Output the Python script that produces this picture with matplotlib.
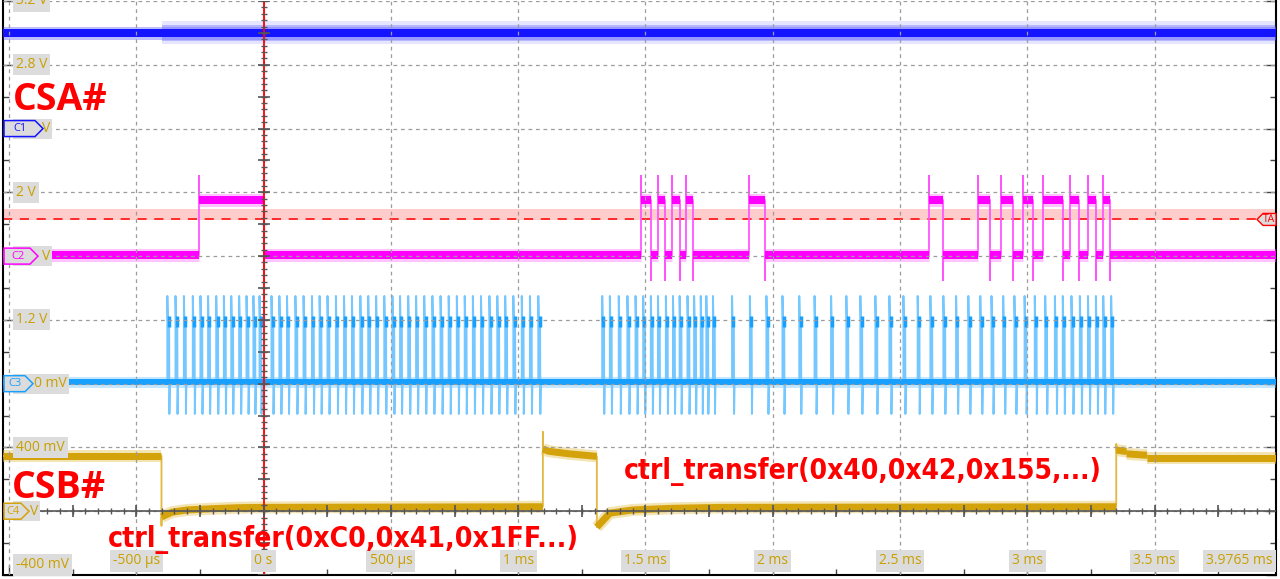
import os
import numpy as np
import matplotlib
matplotlib.use('Agg')
import matplotlib.pyplot as plt
from matplotlib import font_manager
from matplotlib.font_manager import FontProperties
from matplotlib.patches import Polygon, Rectangle

# scope window (ms)
t_start = -1.0235
t_end = 3.9765

# channel marker rows (divisions from bottom) and volts per division
c1_pos, c2_pos, c3_pos, c4_pos = 7, 5, 3, 1
c1_vdiv, c2_vdiv, c3_vdiv, c4_vdiv = 2.0, 2.0, 0.4, 2.0

# C1 (CSA#) - stays high, just gets noisy once the bus is busy
c1_level = 3.0
c1_busy_from = -0.40

# C2 edges (ms)
c2_low, c2_high = 0.05, 1.75
c2_overshoot, c2_undershoot = 2.5, -0.75
c2_rise = [-0.252, 1.484, 1.548, 1.604, 1.659, 1.905, 2.615, 2.808, 2.897,
           2.984, 3.063, 3.168, 3.237, 3.298]
c2_fall = [0.0, 1.520, 1.575, 1.634, 1.686, 1.969, 2.669, 2.853, 2.943,
           3.024, 3.138, 3.204, 3.269, 3.324]

# C3 pulses (ms)
c3_base, c3_top, c3_plateau, c3_bottom = 0.01, 0.55, 0.39, -0.19
c3_pulses = [-0.378, -0.346, -0.313, -0.278, -0.248, -0.218, -0.186, -0.156,
             -0.127, -0.096, -0.067, -0.040, -0.016, 0.031, 0.062, 0.092,
             0.125, 0.157, 0.190, 0.220, 0.251, 0.284, 0.316, 0.347, 0.380,
             0.411, 0.442, 0.474, 0.506, 0.536, 0.568, 0.599, 0.631, 0.663,
             0.695, 0.727, 0.759, 0.790, 0.822, 0.854, 0.887, 0.918, 0.949,
             0.981, 1.014, 1.046, 1.079,
             1.330, 1.360, 1.395, 1.429, 1.461, 1.491, 1.521, 1.549, 1.580,
             1.608, 1.634, 1.665, 1.691, 1.717, 1.739, 1.765, 1.840, 1.910,
             1.975, 2.038, 2.104, 2.164, 2.229, 2.289, 2.344, 2.403, 2.458,
             2.513, 2.569, 2.619, 2.670, 2.720, 2.768, 2.815, 2.859, 2.905,
             2.949, 2.989, 3.029, 3.070, 3.108, 3.139, 3.173, 3.206, 3.238,
             3.269, 3.298, 3.329]

# C4 (CSB#) trace points (ms, V)
c4_t = [t_start, -0.401, -0.401, -0.401, -0.36, -0.30, -0.20, -0.10, 0.0,
        1.097, 1.097, 1.097, 1.12, 1.20, 1.309,
        1.309, 1.309, 1.36, 1.45, 1.60, 1.80,
        3.349, 3.349, 3.349, 3.38, 3.39, 3.39, 3.46, 3.47, 3.47, t_end]
c4_v = [1.73, 1.73, -0.45, -0.18, -0.03, 0.04, 0.08, 0.11, 0.12,
        0.14, 2.48, 1.95, 1.88, 1.80, 1.72,
        1.72, -0.50, -0.06, 0.04, 0.09, 0.12,
        0.14, 2.10, 1.92, 1.88, 1.88, 1.80, 1.76, 1.76, 1.68, 1.68]

# trigger on C2
trig_level = 1.15
trig_band = (1.13, 1.47)

time_ticks = [-0.5, 0, 0.5, 1, 1.5, 2, 2.5, 3, 3.5]
time_labels = ['-500 µs', '0 s', '500 µs', '1 ms', '1.5 ms', '2 ms', '2.5 ms', '3 ms', '3.5 ms']
end_label = '3.9765 ms'
volt_rows = [9, 8, 6, 4, 2]
volt_labels = ['3.2 V', '2.8 V', '2 V', '1.2 V', '400 mV']

GOLD = '#c9a000'
BOX = '#dcdcdc'
C1_COL, C2_COL, C3_COL, C4_COL = '#1414ff', '#ff00ff', '#18a0ff', '#d4a20a'

MS_PER_PX = (t_end - t_start) / 1273.0
DIV_PER_PX = 9 / 574.0


def xpx(p):
    return t_start + (p - 3) * MS_PER_PX


def ypx(p):
    return (575 - p) * DIV_PER_PX


def find_font(keys):
    for key in keys:
        for f in font_manager.fontManager.ttflist:
            base = os.path.basename(f.fname).lower().replace('-', '').replace('_', '')
            if base.startswith(key):
                return f.fname
    return None


fig = plt.figure(figsize=(12.8, 5.79), dpi=100)
ax = fig.add_axes([3 / 1280, 4 / 579, 1273 / 1280, 574 / 579])
ax.set_xlim(t_start, t_end)
ax.set_ylim(0, 9)

# border ticks
ax.set_xticks(np.arange(-1, 3.6, 0.5))
ax.set_yticks(np.arange(0, 10, 1))
ax.set_xticks(np.arange(-1, 3.9, 0.25), minor=True)
ax.set_yticks(np.arange(0, 9.1, 0.5), minor=True)
ax.tick_params(which='both', direction='in', labelleft=False, labelbottom=False,
               left=True, right=True, bottom=True, top=False, color='#444444')
ax.tick_params(which='major', length=7, width=1)
ax.tick_params(which='minor', length=4, width=1)
for s in ['left', 'right', 'bottom']:
    ax.spines[s].set_color('black')
    ax.spines[s].set_linewidth(1.5)
ax.spines['top'].set_visible(False)

# dashed graticule, drawn over the traces like on the scope
for t in np.arange(-1, 3.6, 0.5):
    ax.axvline(t, color='#9c9c9c', lw=0.9, ls=(0, (3, 3)), zorder=6.5)
for d in range(1, 10):
    ax.axhline(d, color='#9c9c9c', lw=0.9, ls=(0, (3, 3)), zorder=6.5)


def draw_trace(ts, vs, pos, vdiv, core, fringe, edge, band_px, z):
    ts = np.asarray(ts, float)
    ys = pos + np.asarray(vs, float) / vdiv
    ax.plot(ts, ys, color=edge, lw=1.3, zorder=z)
    cuts = np.where(np.diff(ts) == 0)[0] + 1
    for seg_t, seg_y in zip(np.split(ts, cuts), np.split(ys, cuts)):
        if len(seg_t) > 1:
            ax.plot(seg_t, seg_y, color=fringe, lw=(band_px + 5) * 0.72, alpha=0.45,
                    solid_capstyle='butt', zorder=z)
            ax.plot(seg_t, seg_y, color=core, lw=band_px * 0.72,
                    solid_capstyle='butt', zorder=z + 0.1)


# trigger band and level
ax.axhspan(c2_pos + trig_band[0] / c2_vdiv, c2_pos + trig_band[1] / c2_vdiv,
           color='#ffcccc', lw=0, zorder=0.5)
ax.axhline(c2_pos + trig_level / c2_vdiv, color='#ff0000', lw=1.1, ls=(0, (6, 5)), zorder=2)

# C1
y1 = c1_pos + c1_level / c1_vdiv
ax.fill_between([c1_busy_from, t_end], y1 - 0.18, y1 + 0.18, color='#4a4aff',
                alpha=0.14, lw=0, zorder=3)
ax.fill_between([c1_busy_from, t_end], y1 - 0.12, y1 + 0.12, color='#3030ff',
                alpha=0.25, lw=0, zorder=3)
draw_trace([t_start, t_end], [c1_level, c1_level], c1_pos, c1_vdiv,
           C1_COL, '#7070ff', C1_COL, 8, 3)

# C2
c2_t, c2_v = [t_start], [c2_low]
for t, kind in sorted([(t, 'r') for t in c2_rise] + [(t, 'f') for t in c2_fall]):
    c2_t += [t, t, t]
    if kind == 'r':
        c2_v += [c2_low, c2_overshoot, c2_high]
    else:
        c2_v += [c2_high, c2_undershoot, c2_low]
c2_t.append(t_end)
c2_v.append(c2_low)
draw_trace(c2_t, c2_v, c2_pos, c2_vdiv, C2_COL, '#ff7cff', '#ff55ff', 8, 4)

# C3
y3 = c3_pos + c3_base / c3_vdiv
pt, pv = [], []
for t in c3_pulses:
    pt += [t, t, t + 0.002, t + 0.007, t + 0.008, t + 0.010, np.nan]
    pv += [c3_base, c3_top, c3_plateau, c3_plateau, c3_bottom, c3_base, np.nan]
ax.plot(pt, c3_pos + np.array(pv) / c3_vdiv, color='#74c8ff', lw=1.4, zorder=5)
ax.vlines(np.array(c3_pulses) + 0.005, c3_pos + c3_plateau / c3_vdiv - 0.09,
          c3_pos + c3_plateau / c3_vdiv + 0.09, color=C3_COL, lw=2.5, zorder=5)
ax.plot([t_start, t_end], [y3, y3], color='#7cc8ff', lw=11 * 0.72, alpha=0.45,
        solid_capstyle='butt', zorder=5)
ax.plot([t_start, t_end], [y3, y3], color=C3_COL, lw=6 * 0.72, solid_capstyle='butt', zorder=5.1)

# C4
draw_trace(c4_t, c4_v, c4_pos, c4_vdiv, C4_COL, '#e6c45a', '#e2b840', 7, 6)

# centre axes with fine ticks
ax.axhline(c4_pos, color='#555555', lw=1.2, zorder=7)
ax.axvline(0, color='#ff0000', lw=1.3, zorder=7)
fine_y = np.arange(0, 9.01, 0.1)
big_y = np.arange(0, 9.01, 0.5)
ax.hlines(fine_y, -3 * MS_PER_PX, 3 * MS_PER_PX, color='#555555', lw=1, zorder=7)
ax.hlines(big_y, -6 * MS_PER_PX, 6 * MS_PER_PX, color='#555555', lw=1.2, zorder=7)
fine_x = np.arange(-1, 3.98, 0.05)
big_x = np.arange(-1, 3.98, 0.25)
ax.vlines(fine_x, c4_pos - 3 * DIV_PER_PX, c4_pos + 3 * DIV_PER_PX, color='#555555', lw=1, zorder=7)
ax.vlines(big_x, c4_pos - 6 * DIV_PER_PX, c4_pos + 6 * DIV_PER_PX, color='#555555', lw=1.2, zorder=7)

# volt labels
lab_font = dict(family=['Open Sans', 'DejaVu Sans'], fontsize=10, color=GOLD, zorder=8)
box = dict(boxstyle='square,pad=0.22', facecolor=BOX, edgecolor='none')
for row, txt in zip(volt_rows, volt_labels):
    ax.text(xpx(16), row, txt, ha='left', va='center', bbox=box, **lab_font)
ax.text(xpx(16), ypx(565), '-400 mV', ha='left', va='center', bbox=box, **lab_font)

# channel markers: (row, name, colour, tip px, label text, box right px)
markers = [(c1_pos, 'C1', C1_COL, 43, 'V', 52),
           (c2_pos, 'C2', C2_COL, 38, 'V', 52),
           (c3_pos, 'C3', C3_COL, 33, '0 mV', 69),
           (c4_pos, 'C4', C4_COL, 29, 'V', 40)]
h = 8 * DIV_PER_PX
for row, name, col, tip, txt, right in markers:
    ax.add_patch(Rectangle((xpx(13), row - 10 * DIV_PER_PX), xpx(right) - xpx(13),
                           20 * DIV_PER_PX, facecolor=BOX, edgecolor='none', zorder=8))
    ax.text(xpx(right - 2), row, txt, ha='right', va='center', **lab_font)
    poly = [(xpx(4), row - h), (xpx(tip - 8), row - h), (xpx(tip), row),
            (xpx(tip - 8), row + h), (xpx(4), row + h)]
    ax.add_patch(Polygon(poly, closed=True, facecolor=BOX, edgecolor=col, lw=1.1, zorder=9))
    ax.text(xpx((4 + tip - 8) / 2 + 1), row, name, ha='center', va='center', color=col,
            fontsize=8, family=['Open Sans', 'DejaVu Sans'], zorder=10)

# trigger marker on the right
yt = c2_pos + trig_level / c2_vdiv
tp = [(xpx(1276), yt - 6 * DIV_PER_PX), (xpx(1263), yt - 6 * DIV_PER_PX), (xpx(1257), yt),
      (xpx(1263), yt + 6 * DIV_PER_PX), (xpx(1276), yt + 6 * DIV_PER_PX)]
ax.add_patch(Polygon(tp, closed=True, facecolor=BOX, edgecolor='#ff0000', lw=1, zorder=9,
                     clip_on=False))
ax.text(xpx(1269), yt, 'TA', ha='center', va='center', color='#ff0000', fontsize=7.5,
        family=['Open Sans', 'DejaVu Sans'], zorder=10)

# time labels
for t, txt in zip(time_ticks, time_labels):
    ax.text(t, ypx(561), txt, ha='center', va='center', bbox=box, **lab_font)
ax.text(xpx(1273), ypx(561), end_label, ha='right', va='center', bbox=box, **lab_font)

# annotations
big = dict(family=['Open Sans', 'DejaVu Sans'], weight='bold', fontsize=27, color='#ff0000', zorder=11)
ax.text(xpx(13), ypx(110), 'CSA#', ha='left', va='baseline', **big)
ax.text(xpx(12), ypx(498), 'CSB#', ha='left', va='baseline', **big)

cond = find_font(['notosanscondensedbold', 'opensanscondensedbold', 'notosanssemicondensedbold',
                  'dejavusanscondensedbold', 'liberationsansnarrowbold'])
if cond:
    ctrl_fp = FontProperties(fname=cond, size=24)
else:
    ctrl_fp = FontProperties(family='Open Sans', weight='bold', size=24)
ctrl_a = ax.text(xpx(108), ypx(547), 'ctrl_transfer(0xC0,0x41,0x1FF...)', ha='left',
                 va='baseline', color='#ff0000', fontproperties=ctrl_fp, zorder=11)
ctrl_b = ax.text(xpx(624), ypx(479), 'ctrl_transfer(0x40,0x42,0x155,...)', ha='left',
                 va='baseline', color='#ff0000', fontproperties=ctrl_fp, zorder=11)

# squeeze the long labels to their on-screen width
fig.canvas.draw()
for txt, width in [(ctrl_a, 469), (ctrl_b, 479)]:
    w = txt.get_window_extent().width
    txt.set_fontsize(24 * width / w)

fig.savefig('out.png', dpi=100)
